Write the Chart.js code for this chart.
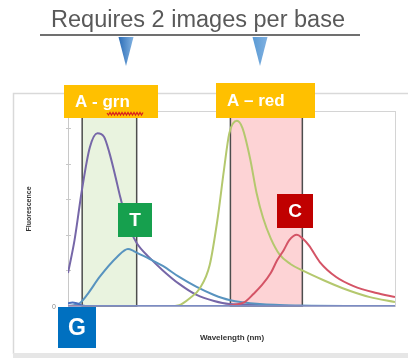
<!DOCTYPE html>
<html>
<head>
<meta charset="utf-8">
<script src="https://cdn.jsdelivr.net/npm/chart.js@4.4.1/dist/chart.umd.min.js"></script>
<style>
  html, body { margin: 0; padding: 0; background: #fff; }
  #wrap { width: 408px; height: 358px; }
</style>
</head>
<body>
<div id="wrap"><canvas id="spectra" width="408" height="358"></canvas></div>
<script>
// emission spectra, wavelength (nm) vs relative fluorescence
var purpleNm  = [450, 456, 463, 470, 477, 483, 488, 493, 498, 505, 513, 525, 537, 552, 568, 584, 598, 626, 662, 750];
var purpleVal = [18.5, 37, 66, 89, 97, 95, 86, 74, 61, 45.5, 35.4, 27, 20, 12.4, 6.2, 2.8, 1.1, 0.6, 0, 0];

var blueNm  = [450, 461, 468, 479, 495, 505, 510, 513, 525, 537, 552, 568, 584, 598, 626, 662, 750];
var blueVal = [0, 1.7, 6.7, 16.3, 27.5, 32, 31, 30, 26.4, 22.5, 16.3, 10.7, 6.2, 3.4, 1.1, 0.3, 0];

var greenNm  = [450, 543, 552, 562, 571, 580, 587, 593, 598, 605, 610, 617, 623, 629, 636, 644, 654, 666, 684, 702, 727, 750];
var greenVal = [0, 0, 0.5, 4.5, 10, 23, 48, 76, 97, 104, 100, 83, 63.5, 49.4, 38, 29, 23.6, 19.7, 14.6, 10, 5, 2.2];

var redNm  = [450, 594, 602, 612, 620, 628, 636, 642, 648, 653, 660, 665, 671, 681, 696, 712, 733, 750];
var redVal = [0, 0, 0.6, 2.2, 6.7, 11.8, 18.5, 25.8, 31.5, 37, 40, 38, 34, 24.7, 16.3, 11.2, 7.3, 5];

var gNm  = [450, 454, 458, 463, 470, 750];
var gVal = [1.5, 2, 1.5, 0.3, 0, 0];

// filter windows for the two images
var grnBand = [463, 513];
var redBand = [599, 665];

var yTicks = [20, 40, 60, 80, 100];

function pts(xs, ys) {
    return xs.map(function(x, i) { return {x: x, y: ys[i]}; });
}

function series(xs, ys, color) {
    return {
        data: pts(xs, ys),
        borderColor: color,
        borderWidth: 2,
        pointRadius: 0,
        fill: false,
        cubicInterpolationMode: 'monotone'
    };
}

function tag(ctx, x, y, w, h, bg, text, font, tx) {
    ctx.fillStyle = bg;
    ctx.fillRect(x, y, w, h);
    ctx.fillStyle = '#fff';
    ctx.font = font;
    ctx.textBaseline = 'middle';
    if (tx === undefined) {
        ctx.textAlign = 'center';
        ctx.fillText(text, x + w / 2, y + h / 2 + 1);
    } else {
        ctx.textAlign = 'left';
        ctx.fillText(text, tx, y + h / 2 + 1);
    }
}

var backdrop = {
    id: 'backdrop',
    beforeDatasetsDraw: function(chart) {
        var ctx = chart.ctx, a = chart.chartArea;
        var xs = chart.scales.x, ys = chart.scales.y;
        ctx.save();
        // slide frame
        ctx.strokeStyle = '#d9d9d9';
        ctx.lineWidth = 1.5;
        ctx.beginPath();
        ctx.moveTo(410, 93.5);
        ctx.lineTo(13.5, 93.5);
        ctx.lineTo(13.5, 354);
        ctx.stroke();
        ctx.fillStyle = '#e6e6e6';
        ctx.fillRect(13, 353, 395, 5);

        // plot box
        ctx.strokeStyle = '#d4d4d4';
        ctx.lineWidth = 1;
        ctx.strokeRect(a.left + 0.5, a.top + 0.5, a.right - a.left, a.bottom - a.top);

        // filter windows
        [[grnBand, '#e9f3df'], [redBand, '#fdd3d5']].forEach(function(b) {
            var x0 = xs.getPixelForValue(b[0][0]), x1 = xs.getPixelForValue(b[0][1]);
            ctx.fillStyle = b[1];
            ctx.fillRect(x0, a.top, x1 - x0, a.bottom - a.top);
            ctx.strokeStyle = '#4d4d4d';
            ctx.lineWidth = 1.5;
            ctx.strokeRect(x0, a.top, x1 - x0, a.bottom - a.top);
        });

        // y axis with small ticks
        ctx.strokeStyle = '#c8c8c8';
        ctx.lineWidth = 1;
        ctx.beginPath();
        ctx.moveTo(a.left + 0.5, a.top);
        ctx.lineTo(a.left + 0.5, a.bottom);
        yTicks.forEach(function(t) {
            var py = Math.round(ys.getPixelForValue(t)) + 0.5;
            ctx.moveTo(a.left - 2, py);
            ctx.lineTo(a.left + 3, py);
        });
        ctx.stroke();
        ctx.restore();
    },
    afterDatasetsDraw: function(chart) {
        var ctx = chart.ctx, a = chart.chartArea;
        ctx.save();
        // x axis line
        ctx.strokeStyle = '#8c96c4';
        ctx.lineWidth = 1.5;
        ctx.beginPath();
        ctx.moveTo(a.left, a.bottom);
        ctx.lineTo(a.right, a.bottom);
        ctx.stroke();

        ctx.fillStyle = '#888';
        ctx.font = '7px "Liberation Sans"';
        ctx.textAlign = 'right';
        ctx.textBaseline = 'middle';
        ctx.fillText('0', a.left - 12, a.bottom + 1);

        // axis titles
        ctx.fillStyle = '#333';
        ctx.font = 'bold 8px "Liberation Sans"';
        ctx.textAlign = 'center';
        ctx.fillText('Wavelength (nm)', 232, 338);
        ctx.translate(29, 209);
        ctx.rotate(-Math.PI / 2);
        ctx.font = 'bold 7px "Liberation Sans"';
        ctx.fillText('Fluorescence', 0, 0);
        ctx.setTransform(1, 0, 0, 1, 0, 0);

        // base tags
        tag(ctx, 64, 85, 94, 33, '#ffc000', 'A - grn', 'bold 17px "Liberation Sans"', 75);
        tag(ctx, 216, 83, 99, 35, '#ffc000', 'A \u2013 red', 'bold 17px "Liberation Sans"', 227);
        tag(ctx, 118, 203, 34, 34, '#16a04e', 'T', 'bold 19px "Liberation Sans"');
        tag(ctx, 277, 194, 36, 34, '#c00000', 'C', 'bold 19px "Liberation Sans"');
        tag(ctx, 58, 307, 38, 41, '#0070c0', 'G', 'bold 23px "Liberation Sans"');

        // spell-check squiggle under "grn"
        ctx.strokeStyle = '#d8201c';
        ctx.lineWidth = 1.2;
        ctx.beginPath();
        ctx.moveTo(107, 113);
        for (var x = 108.5; x <= 144; x += 1.5) {
            ctx.lineTo(x, Math.round((x - 107) / 1.5) % 2 ? 115 : 112.5);
        }
        ctx.stroke();

        // heading
        ctx.fillStyle = '#595959';
        ctx.font = '23.5px "Liberation Sans"';
        ctx.textAlign = 'center';
        ctx.textBaseline = 'alphabetic';
        ctx.fillText('Requires 2 images per base', 198, 27);
        ctx.strokeStyle = '#404040';
        ctx.lineWidth = 1.5;
        ctx.beginPath();
        ctx.moveTo(40, 35);
        ctx.lineTo(360, 35);
        ctx.stroke();

        // pointers
        [[126, '#2e6fb8'], [260, '#5b9bd5']].forEach(function(p) {
            var g = ctx.createLinearGradient(p[0] - 7, 0, p[0] + 7, 0);
            g.addColorStop(0, p[1]);
            g.addColorStop(1, '#7fb0e0');
            ctx.fillStyle = g;
            ctx.beginPath();
            ctx.moveTo(p[0] - 7.5, 37);
            ctx.lineTo(p[0] + 7.5, 37);
            ctx.lineTo(p[0], 66);
            ctx.closePath();
            ctx.fill();
        });
        ctx.restore();
    }
};

new Chart(document.getElementById('spectra'), {
    type: 'line',
    data: {
        datasets: [
            series(gNm, gVal, '#4a6fc0'),
            series(redNm, redVal, '#d45466'),
            series(greenNm, greenVal, '#b4c86e'),
            series(blueNm, blueVal, '#5893bf'),
            series(purpleNm, purpleVal, '#7667a8')
        ]
    },
    options: {
        responsive: false,
        animation: false,
        layout: { padding: { left: 68, right: 13, top: 111, bottom: 52 } },
        scales: {
            x: { type: 'linear', min: 450, max: 750, display: false },
            y: { min: 0, max: 109.5, display: false }
        },
        plugins: {
            legend: { display: false },
            tooltip: { enabled: false }
        }
    },
    plugins: [backdrop]
});
</script>
</body>
</html>
